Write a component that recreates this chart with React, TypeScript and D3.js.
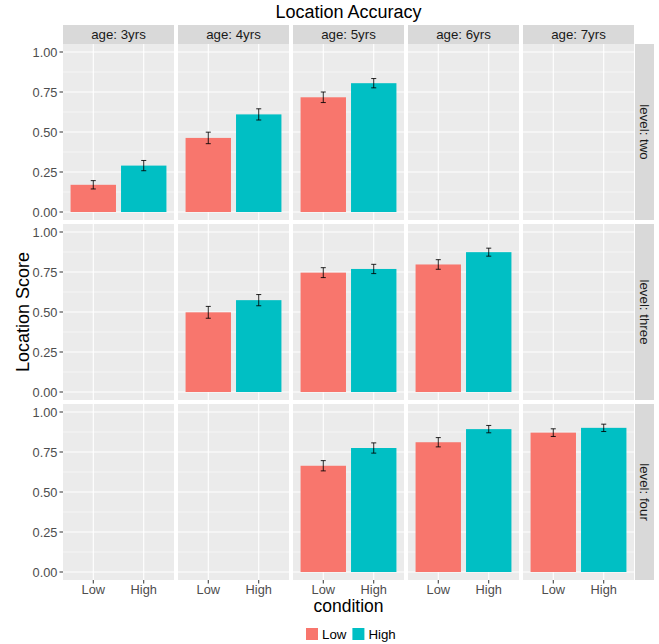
import React, { useEffect, useRef } from 'react';
import * as d3 from 'd3';

const ages = ['3yrs', '4yrs', '5yrs', '6yrs', '7yrs'];
const levels = ['two', 'three', 'four'];
const conditions = ['Low', 'High'];
const yTicks = [0, 0.25, 0.5, 0.75, 1];

// [level, age, condition, mean, se]
const scores: [string, string, string, number, number][] = [
  ['two', '3yrs', 'Low', 0.17, 0.026],
  ['two', '3yrs', 'High', 0.29, 0.032],
  ['two', '4yrs', 'Low', 0.463, 0.036],
  ['two', '4yrs', 'High', 0.61, 0.035],
  ['two', '5yrs', 'Low', 0.717, 0.033],
  ['two', '5yrs', 'High', 0.805, 0.029],
  ['three', '4yrs', 'Low', 0.498, 0.037],
  ['three', '4yrs', 'High', 0.574, 0.035],
  ['three', '5yrs', 'Low', 0.746, 0.031],
  ['three', '5yrs', 'High', 0.769, 0.029],
  ['three', '6yrs', 'Low', 0.797, 0.03],
  ['three', '6yrs', 'High', 0.874, 0.025],
  ['four', '5yrs', 'Low', 0.664, 0.032],
  ['four', '5yrs', 'High', 0.775, 0.032],
  ['four', '6yrs', 'Low', 0.811, 0.029],
  ['four', '6yrs', 'High', 0.893, 0.023],
  ['four', '7yrs', 'Low', 0.871, 0.024],
  ['four', '7yrs', 'High', 0.901, 0.023],
];

const fillColors = ['#F8766D', '#00BFC4'];

export default function App() {
  const svgRef = useRef<SVGSVGElement>(null);

  useEffect(() => {
    const svg = d3.select(svgRef.current);
    svg.selectAll('*').remove();
    const font = 'Liberation Sans, Arial, sans-serif';

    const left = 63, right = 634, top = 44, bottom = 580, gap = 4;
    const pw = (right - left - gap * (ages.length - 1)) / ages.length;
    const ph = (bottom - top - gap * (levels.length - 1)) / levels.length;

    const col = d3.scaleBand().domain(ages).range([left, right]).paddingInner(gap / (pw + gap));
    const row = d3.scaleBand().domain(levels).range([top, bottom]).paddingInner(gap / (ph + gap));
    const x = d3.scalePoint().domain(conditions).range([0, pw]).padding(0.6);
    const y = d3.scaleLinear().domain([-0.05, 1.05]).range([ph, 0]);
    const color = d3.scaleOrdinal<string>().domain(conditions).range(fillColors);
    const bw = x.step() * 0.9;
    const ew = x.step() * 0.1;

    svg.append('rect').attr('width', 659).attr('height', 644).attr('fill', '#fff');

    // title
    svg.append('text').attr('x', (left + right) / 2).attr('y', 18)
      .attr('text-anchor', 'middle').attr('font-family', font).attr('font-size', 18)
      .attr('fill', '#000').text('Location Accuracy');

    // top strips
    ages.forEach(a => {
      const g = svg.append('g').attr('transform', `translate(${col(a)},${25})`);
      g.append('rect').attr('width', pw).attr('height', top - 25).attr('fill', '#D9D9D9');
      g.append('text').attr('x', pw / 2).attr('y', (top - 25) / 2 + 4.7)
        .attr('text-anchor', 'middle').attr('font-family', font).attr('font-size', 13.3)
        .attr('fill', '#1A1A1A').text(`age: ${a}`);
    });

    // right strips
    levels.forEach(l => {
      const g = svg.append('g').attr('transform', `translate(${right + 1},${row(l)})`);
      g.append('rect').attr('width', 19).attr('height', ph).attr('fill', '#D9D9D9');
      g.append('text').attr('transform', `translate(${9.5 - 4.7},${ph / 2}) rotate(90)`)
        .attr('text-anchor', 'middle').attr('font-family', font).attr('font-size', 13.3)
        .attr('fill', '#1A1A1A').text(`level: ${l}`);
    });

    levels.forEach(l => {
      ages.forEach(a => {
        const g = svg.append('g').attr('transform', `translate(${col(a)},${row(l)})`);
        g.append('rect').attr('width', pw).attr('height', ph).attr('fill', '#EBEBEB');
        // minor grid
        d3.range(0.125, 1, 0.25).forEach(t => {
          g.append('line').attr('x1', 0).attr('x2', pw).attr('y1', y(t)).attr('y2', y(t))
            .attr('stroke', '#fff').attr('stroke-width', 0.55);
        });
        yTicks.forEach(t => {
          g.append('line').attr('x1', 0).attr('x2', pw).attr('y1', y(t)).attr('y2', y(t))
            .attr('stroke', '#fff').attr('stroke-width', 1.1);
        });
        conditions.forEach(c => {
          g.append('line').attr('x1', x(c)!).attr('x2', x(c)!).attr('y1', 0).attr('y2', ph)
            .attr('stroke', '#fff').attr('stroke-width', 1.1);
        });
        const cells = scores.filter(d => d[0] === l && d[1] === a);
        cells.forEach(d => {
          const cx = x(d[2])!;
          g.append('rect').attr('x', cx - bw / 2).attr('width', bw)
            .attr('y', y(d[3])).attr('height', y(0) - y(d[3]))
            .attr('fill', color(d[2]));
          const e = g.append('g').attr('stroke', '#000').attr('stroke-width', 1).attr('stroke-opacity', 0.85);
          e.append('line').attr('x1', cx).attr('x2', cx).attr('y1', y(d[3] + d[4])).attr('y2', y(d[3] - d[4]));
          e.append('line').attr('x1', cx - ew / 2).attr('x2', cx + ew / 2).attr('y1', y(d[3] + d[4])).attr('y2', y(d[3] + d[4]));
          e.append('line').attr('x1', cx - ew / 2).attr('x2', cx + ew / 2).attr('y1', y(d[3] - d[4])).attr('y2', y(d[3] - d[4]));
        });
      });

      // y axis
      const ay = svg.append('g').attr('transform', `translate(${left},${row(l)})`);
      yTicks.forEach(t => {
        ay.append('line').attr('x1', -3.5).attr('x2', 0).attr('y1', y(t)).attr('y2', y(t))
          .attr('stroke', '#333').attr('stroke-width', 1);
        ay.append('text').attr('x', -5.5).attr('y', y(t) + 4.6).attr('text-anchor', 'end')
          .attr('font-family', font).attr('font-size', 12.8).attr('fill', '#4D4D4D')
          .text(d3.format('.2f')(t));
      });
    });

    // x axis
    ages.forEach(a => {
      const ax = svg.append('g').attr('transform', `translate(${col(a)},${bottom})`);
      conditions.forEach(c => {
        ax.append('line').attr('x1', x(c)!).attr('x2', x(c)!).attr('y1', 0).attr('y2', 3.5)
          .attr('stroke', '#333').attr('stroke-width', 1);
        ax.append('text').attr('x', x(c)!).attr('y', 13.5).attr('text-anchor', 'middle')
          .attr('font-family', font).attr('font-size', 12.8).attr('fill', '#4D4D4D').text(c);
      });
    });

    svg.append('text').attr('x', (left + right) / 2).attr('y', 612).attr('text-anchor', 'middle')
      .attr('font-family', font).attr('font-size', 17.5).attr('fill', '#000').text('condition');
    svg.append('text').attr('transform', `translate(29,${(top + bottom) / 2}) rotate(-90)`)
      .attr('text-anchor', 'middle').attr('font-family', font).attr('font-size', 18)
      .attr('fill', '#000').text('Location Score');

    // legend
    const lg = svg.append('g').attr('transform', 'translate(306,628)');
    let off = 0;
    conditions.forEach(c => {
      lg.append('rect').attr('x', off).attr('y', 0).attr('width', 12).attr('height', 12)
        .attr('fill', color(c));
      const t = lg.append('text').attr('x', off + 16).attr('y', 10.8)
        .attr('font-family', font).attr('font-size', 13.3).attr('fill', '#000').text(c);
      off += 16 + (t.node() as SVGTextElement).getComputedTextLength() + 6;
    });
  }, []);

  return <svg ref={svgRef} width={659} height={644} style={{ display: 'block', position: 'absolute', left: 0, top: 0 }} />;
}
